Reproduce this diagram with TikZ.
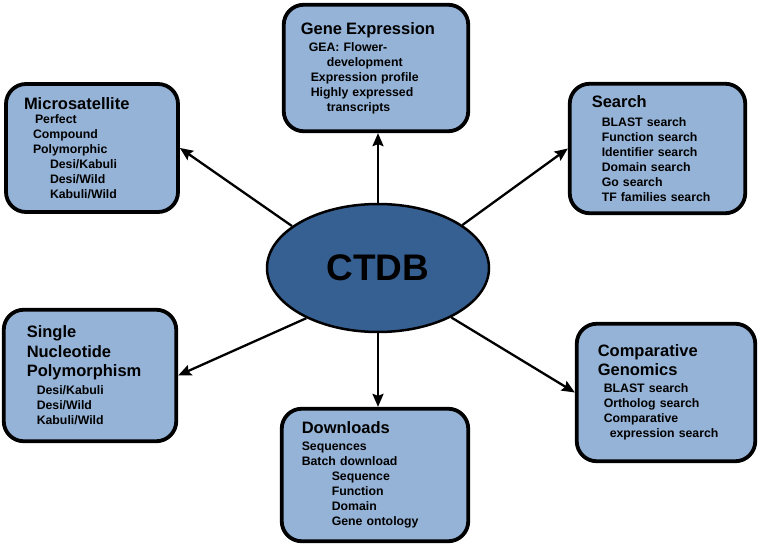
\documentclass[tikz,border=0pt]{standalone}
\usepackage{fontspec}
\setmainfont{Liberation Sans}
\usepackage{xcolor}
\usepackage{tikz}
\usetikzlibrary{arrows.meta,shapes.geometric}
\definecolor{boxblue}{RGB}{149,179,215}
\definecolor{hubblue}{RGB}{55,96,146}
\newcommand{\boxtitle}[1]{{\fontsize{16.5}{19.5}\selectfont #1\par}}
\newcommand{\ind}[1]{\hspace*{#1pt}}

\begin{document}
\begin{tikzpicture}[x=1pt,y=1pt,font=\bfseries\fontsize{12.3}{15}\selectfont,
  box/.style={draw=black,line width=3.8pt,rounded corners=20pt,fill=boxblue,align=left,inner ysep=0pt},
  hub/.style={ellipse,draw=black,line width=2.5pt,fill=hubblue,minimum width=222pt,minimum height=128pt,inner sep=0pt,font=\bfseries\fontsize{37}{42}\selectfont},
  link/.style={line width=2.3pt,-{Stealth[length=13pt,width=11pt,inset=2pt]}}]
  \useasboundingbox (0,0) rectangle (762,-545);
  \node[hub] (ctdb) at (378,-268) {CTDB};
  \node[box,inner xsep=18pt,text width=136pt,minimum height=128pt] (micro) at (92,-148) {\boxtitle{Microsatellite}\vspace{-1pt}
    \ind{11}Perfect\\ \ind{9}Compound\\ \ind{9}Polymorphic\\ \ind{26}Desi/Kabuli\\ \ind{26}Desi/Wild\\ \ind{26}Kabuli/Wild};
  \node[box,inner xsep=17pt,text width=150.5pt,minimum height=126.5pt] (gene) at (376,-68) {\boxtitle{Gene Expression}\vspace{2pt}
    \ind{8}GEA: Flower-\\ \ind{26}development\\ \ind{10}Expression profile\\ \ind{10}Highly expressed\\ \ind{26}transcripts};
  \node[box,inner xsep=22pt,text width=131.5pt,minimum height=129.5pt] (search) at (657.5,-148.5) {\boxtitle{Search}\vspace{4pt}
    \ind{10}BLAST search\\ \ind{10}Function search\\ \ind{10}Identifier search\\ \ind{10}Domain search\\ \ind{10}Go search\\ \ind{10}TF families search};
  \node[box,inner xsep=23pt,text width=126.5pt,minimum height=131.5pt] (snp) at (90,-375.5) {\boxtitle{Single\\Nucleotide\\Polymorphism}\vspace{3pt}
    \ind{10}Desi/Kabuli\\ \ind{10}Desi/Wild\\ \ind{10}Kabuli/Wild};
  \node[box,inner xsep=21pt,text width=136.5pt,minimum height=137.5pt] (comp) at (666,-392.5) {\boxtitle{Comparative\\Genomics}\vspace{2pt}
    \ind{6}BLAST search\\ \ind{6}Ortholog search\\ \ind{6}Comparative\\ \ind{12}expression search};
  \node[box,inner xsep=20pt,text width=146.5pt,minimum height=132.5pt] (down) at (375,-475) {\boxtitle{Downloads}\vspace{2pt}
    Sequences\\ Batch download\\ \ind{30}Sequence\\ \ind{30}Function\\ \ind{30}Domain\\ \ind{30}Gene ontology};
  \draw[link] (ctdb.154) -- (micro.east);
  \draw[link] (ctdb.north) -- (ctdb.north |- gene.south);
  \draw[link] (ctdb.27) -- (search.west);
  \draw[link] (ctdb.215) -- (snp.east);
  \draw[link] (ctdb.326) -- (comp.west);
  \draw[link] (ctdb.south) -- (ctdb.south |- down.north);
\end{tikzpicture}
\end{document}
